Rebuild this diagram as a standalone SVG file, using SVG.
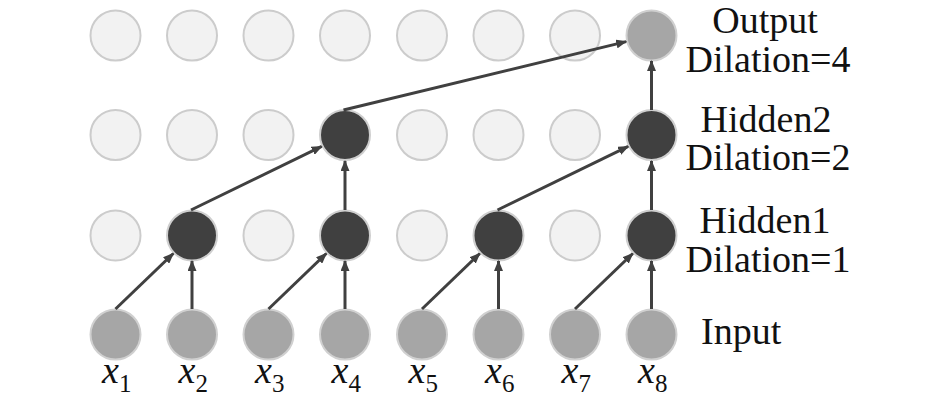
<svg xmlns="http://www.w3.org/2000/svg" width="945" height="406" viewBox="0 0 945 406">
<style>
.light{fill:#f2f2f2;stroke:#cccccc;stroke-width:2}
.dark{fill:#404040;stroke:#cfcfcf;stroke-width:2}
.grey{fill:#a6a6a6;stroke:#d0d0d0;stroke-width:2}
.edge{stroke:#404040;stroke-width:3;fill:none;marker-end:url(#ah)}
text{font-family:'Liberation Serif','DejaVu Serif',serif}
.lbl{font-size:38px;fill:#111111}
.xl{font-size:38px;font-style:italic;fill:#111111}
.sub{font-size:25px;font-style:normal;fill:#111111}
</style>
<defs>
<marker id="ah" markerUnits="userSpaceOnUse" markerWidth="11" markerHeight="9" refX="10" refY="4.5" orient="auto">
<path d="M0,0 L11,4.5 L0,9 z" fill="#404040"/>
</marker>
</defs>
<rect width="945" height="406" fill="#ffffff"/>
<g id="output-row">
<circle id="o1" class="light" cx="115.5" cy="35.5" r="25"/>
<circle id="o2" class="light" cx="192" cy="35.5" r="25"/>
<circle id="o3" class="light" cx="268.5" cy="35.5" r="25"/>
<circle id="o4" class="light" cx="345" cy="35.5" r="25"/>
<circle id="o5" class="light" cx="422" cy="35.5" r="25"/>
<circle id="o6" class="light" cx="498.5" cy="35.5" r="25"/>
<circle id="o7" class="light" cx="575" cy="35.5" r="25"/>
<g id="o8"><circle class="grey" cx="651.5" cy="35.5" r="25"/></g>
</g>
<g id="hidden2-row">
<circle id="h2-1" class="light" cx="115.5" cy="135" r="25"/>
<circle id="h2-2" class="light" cx="192" cy="135" r="25"/>
<circle id="h2-3" class="light" cx="268.5" cy="135" r="25"/>
<g id="h2-4"><circle class="dark" cx="345" cy="135" r="25"/></g>
<circle id="h2-5" class="light" cx="422" cy="135" r="25"/>
<circle id="h2-6" class="light" cx="498.5" cy="135" r="25"/>
<circle id="h2-7" class="light" cx="575" cy="135" r="25"/>
<g id="h2-8"><circle class="dark" cx="651.5" cy="135" r="25"/></g>
</g>
<g id="hidden1-row">
<circle id="h1-1" class="light" cx="115.5" cy="235.5" r="25"/>
<g id="h1-2"><circle class="dark" cx="192" cy="235.5" r="25"/></g>
<circle id="h1-3" class="light" cx="268.5" cy="235.5" r="25"/>
<g id="h1-4"><circle class="dark" cx="345" cy="235.5" r="25"/></g>
<circle id="h1-5" class="light" cx="422" cy="235.5" r="25"/>
<g id="h1-6"><circle class="dark" cx="498.5" cy="235.5" r="25"/></g>
<circle id="h1-7" class="light" cx="575" cy="235.5" r="25"/>
<g id="h1-8"><circle class="dark" cx="651.5" cy="235.5" r="25"/></g>
</g>
<g id="input-row">
<g id="in1"><circle class="grey" cx="115.5" cy="334.5" r="25"/><text class="xl" x="102" y="383" style="font-family:'Liberation Serif',serif">x<tspan class="sub" dy="9">1</tspan></text></g>
<g id="in2"><circle class="grey" cx="192" cy="334.5" r="25"/><text class="xl" x="178.5" y="383" style="font-family:'Liberation Serif',serif">x<tspan class="sub" dy="9">2</tspan></text></g>
<g id="in3"><circle class="grey" cx="268.5" cy="334.5" r="25"/><text class="xl" x="255" y="383" style="font-family:'Liberation Serif',serif">x<tspan class="sub" dy="9">3</tspan></text></g>
<g id="in4"><circle class="grey" cx="345" cy="334.5" r="25"/><text class="xl" x="331.5" y="383" style="font-family:'Liberation Serif',serif">x<tspan class="sub" dy="9">4</tspan></text></g>
<g id="in5"><circle class="grey" cx="422" cy="334.5" r="25"/><text class="xl" x="408.5" y="383" style="font-family:'Liberation Serif',serif">x<tspan class="sub" dy="9">5</tspan></text></g>
<g id="in6"><circle class="grey" cx="498.5" cy="334.5" r="25"/><text class="xl" x="485" y="383" style="font-family:'Liberation Serif',serif">x<tspan class="sub" dy="9">6</tspan></text></g>
<g id="in7"><circle class="grey" cx="575" cy="334.5" r="25"/><text class="xl" x="561.5" y="383" style="font-family:'Liberation Serif',serif">x<tspan class="sub" dy="9">7</tspan></text></g>
<g id="in8"><circle class="grey" cx="651.5" cy="334.5" r="25"/><text class="xl" x="638" y="383" style="font-family:'Liberation Serif',serif">x<tspan class="sub" dy="9">8</tspan></text></g>
</g>
<g id="connectors">
<line class="edge" x1="115.5" y1="309" x2="173.3" y2="253.5"/>
<line class="edge" x1="192" y1="309" x2="192" y2="261"/>
<line class="edge" x1="268.5" y1="309" x2="326.3" y2="253.5"/>
<line class="edge" x1="345" y1="309" x2="345" y2="261"/>
<line class="edge" x1="422" y1="309" x2="479.8" y2="253.5"/>
<line class="edge" x1="498.5" y1="309" x2="498.5" y2="261"/>
<line class="edge" x1="575" y1="309" x2="632.8" y2="253.5"/>
<line class="edge" x1="651.5" y1="309" x2="651.5" y2="261"/>
<line class="edge" x1="191" y1="210" x2="321.7" y2="146.4"/>
<line class="edge" x1="345" y1="210" x2="345" y2="161"/>
<line class="edge" x1="497.5" y1="210" x2="628.2" y2="146.4"/>
<line class="edge" x1="651.5" y1="210" x2="651.5" y2="161"/>
<line class="edge" x1="343.5" y1="110" x2="626.2" y2="41.6"/>
<line class="edge" x1="651.5" y1="110" x2="651.5" y2="61"/>
</g>
<g id="labels">
<text class="lbl" x="765" y="33" text-anchor="middle" style="font-family:'Liberation Serif',serif">Output</text>
<text class="lbl" x="768" y="72" text-anchor="middle" style="font-family:'Liberation Serif',serif">Dilation=4</text>
<text class="lbl" x="766" y="132" text-anchor="middle" style="font-family:'Liberation Serif',serif">Hidden2</text>
<text class="lbl" x="768" y="170" text-anchor="middle" style="font-family:'Liberation Serif',serif">Dilation=2</text>
<text class="lbl" x="765" y="233" text-anchor="middle" style="font-family:'Liberation Serif',serif">Hidden1</text>
<text class="lbl" x="768" y="272" text-anchor="middle" style="font-family:'Liberation Serif',serif">Dilation=1</text>
<text class="lbl" x="701" y="344" style="font-family:'Liberation Serif',serif">Input</text>
</g>
</svg>
